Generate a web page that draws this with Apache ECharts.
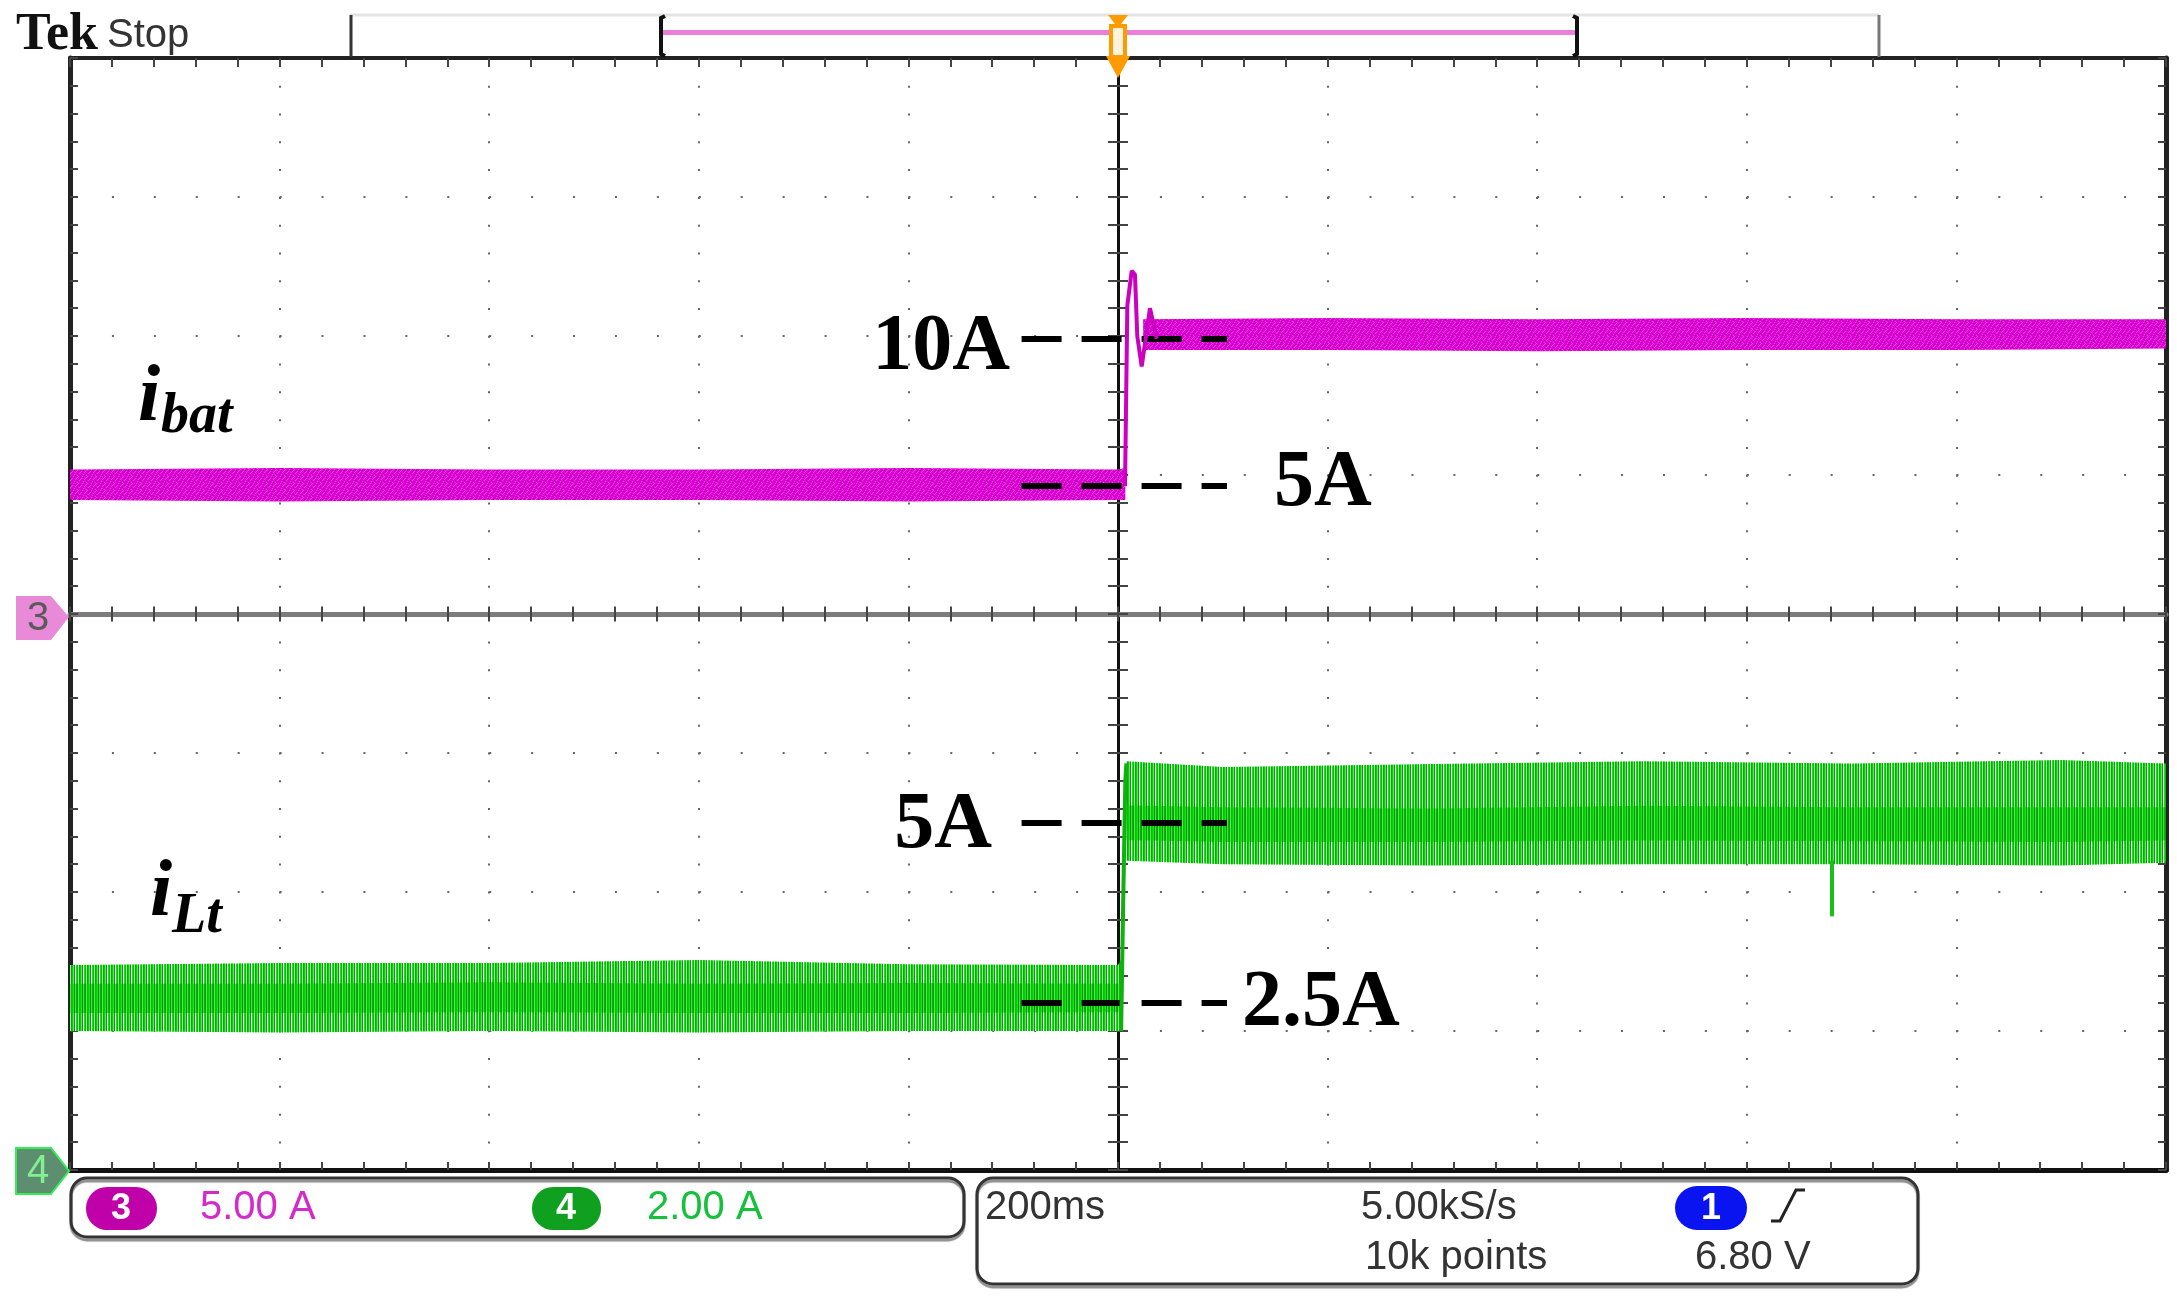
<!DOCTYPE html>
<html>
<head>
<meta charset="utf-8">
<script src="https://cdn.jsdelivr.net/npm/echarts@6/dist/echarts.min.js"></script>
<style>
html,body{margin:0;padding:0;background:#fff;}
#c{width:2177px;height:1302px;}
</style>
</head>
<body>
<div id="c"></div>
<script>
// ---- Time base: 200 ms/div, 10 div, trigger at centre (ms) ----
const timeMin = -1000, timeMax = 1000, timeDiv = 200;
// ---- Channel 3 (i_bat): 5 A/div, ground at centre ----
const ibatMin = -20, ibatMax = 20, ibatDiv = 5;
// ---- Channel 4 (i_Lt): 2 A/div, ground at bottom ----
const iLtMin = 0, iLtMax = 16, iLtDiv = 2;

// i_bat noise envelope before the step (time ms, low A, high A)
const ibatBeforeTime = [-1000, -800, -600, -400, -200, 0, 7];
const ibatBeforeLow  = [4.10, 4.05, 4.10, 4.10, 4.05, 4.10, 4.10];
const ibatBeforeHigh = [5.20, 5.25, 5.20, 5.20, 5.25, 5.20, 5.25];
// i_bat noise envelope after the step
const ibatAfterTime = [24, 200, 400, 600, 800, 1000];
const ibatAfterLow  = [9.50, 9.50, 9.45, 9.50, 9.50, 9.55];
const ibatAfterHigh = [10.60, 10.65, 10.60, 10.65, 10.60, 10.60];
// i_bat step transient
const ibatStepTime  = [6.7, 8.9, 13.1, 16.2, 18.4, 22.6, 30.5, 37];
const ibatStepValue = [4.6, 11.1, 12.35, 12.2, 10.0, 8.9, 11.0, 9.9];

// i_Lt ripple envelope before the step (outer peaks)
const iLtBeforeTime = [-1000, -800, -600, -400, -200, 0, 4];
const iLtBeforeLow  = [2.00, 1.98, 2.00, 1.98, 2.00, 2.00, 2.02];
const iLtBeforeHigh = [2.95, 2.98, 2.98, 3.02, 2.96, 2.95, 3.05];
// i_Lt dense core before the step
const iLtBeforeCoreLow  = [2.26, 2.26, 2.27, 2.26, 2.26, 2.27, 2.28];
const iLtBeforeCoreHigh = [2.68, 2.68, 2.70, 2.68, 2.69, 2.68, 2.70];
// i_Lt ripple envelope after the step (outer peaks)
const iLtAfterTime = [8, 100, 300, 500, 700, 900, 1000];
const iLtAfterLow  = [4.45, 4.40, 4.38, 4.40, 4.40, 4.38, 4.42];
const iLtAfterHigh = [5.88, 5.80, 5.84, 5.88, 5.85, 5.90, 5.85];
// i_Lt dense core after the step
const iLtAfterCoreLow  = [4.75, 4.72, 4.72, 4.74, 4.73, 4.72, 4.74];
const iLtAfterCoreHigh = [5.25, 5.22, 5.20, 5.24, 5.22, 5.22, 5.22];
// i_Lt step edge
const iLtStepTime  = [3, 5, 7, 8];
const iLtStepValue = [2.0, 3.9, 5.6, 5.85];
// i_Lt isolated downward spike (time ms, from A, to A)
const iLtSpikeTime = [681];
const iLtSpikeFrom = [4.45];
const iLtSpikeTo   = [3.65];

// Hand-drawn annotation levels (as drawn on the picture) and labels
const markStart = -92, markEnd = 104;
const ibatMarkLevels = [9.9, 4.6];
const ibatMarkLabels = ['10A', '5A'];
const iLtMarkLevels  = [5.0, 2.4];
const iLtMarkLabels  = ['5A', '2.5A'];

const chart = echarts.init(document.getElementById('c'), null, {renderer: 'canvas'});

// texture patterns (style only)
function texPattern(rows) {
  const cv = document.createElement('canvas');
  cv.width = rows[0].length; cv.height = rows.length;
  const ctx = cv.getContext('2d');
  for (let y = 0; y < cv.height; y++) {
    for (let x = 0; x < cv.width; x++) {
      ctx.fillStyle = rows[y][x];
      ctx.fillRect(x, y, 1, 1);
    }
  }
  return {image: cv, repeat: 'repeat'};
}
const GREEN_OUTER = texPattern([['#00d400', '#5fe65f', '#0a9a0a', '#ffffff', '#20dc20', '#00c000', '#9ef09e', '#00b000']]);
const GREEN_CORE = texPattern([['#00d000', '#22e022', '#078a07', '#3fe63f', '#00b600', '#0c9c0c', '#50ec50', '#00c400']]);
const P = '#e000d8', Q = '#f040e8', D = '#8a0078', M = '#c800c0';
const PINK_TEX = texPattern([
  [P, Q, P, P, M, P, Q, P, P],
  [P, P, D, P, P, Q, P, P, M],
  [Q, P, P, P, Q, P, P, D, P],
  [P, M, P, Q, P, P, P, P, Q],
  [P, P, P, P, P, D, P, Q, P],
  [M, P, Q, P, P, P, M, P, P],
  [P, P, P, D, P, Q, P, P, P]
]);

function zip(a, b) { return a.map((v, i) => [v, b[i]]); }

function band(t, lo, hi, yIdx, fill, z) {
  return {
    type: 'custom', xAxisIndex: 0, yAxisIndex: yIdx, z: z || 3, silent: true,
    data: [[t[0], lo[0]]],
    renderItem: function (params, api) {
      const pts = [];
      for (let i = 0; i < t.length; i++) pts.push(api.coord([t[i], hi[i]]));
      for (let i = t.length - 1; i >= 0; i--) pts.push(api.coord([t[i], lo[i]]));
      return {type: 'polygon', shape: {points: pts}, style: {fill: fill}};
    }
  };
}

function marks(levels) {
  return {
    silent: true, symbol: ['none', 'none'], animation: false,
    label: {show: false},
    lineStyle: {color: '#000', width: 6, type: [40, 20], opacity: 1},
    data: levels.map(v => [{coord: [markStart, v]}, {coord: [markEnd, v]}])
  };
}

const tickStyle = {color: '#444', width: 2};
function xAx(pos, offset, lineShow, lineColor, lineWidth, tickLen, split) {
  return {
    type: 'value', min: timeMin, max: timeMax, interval: timeDiv, position: pos, offset: offset,
    axisLine: {show: lineShow, onZero: false, lineStyle: {color: lineColor, width: lineWidth}},
    axisTick: {show: true, inside: true, length: tickLen, lineStyle: tickStyle},
    minorTick: {show: true, splitNumber: 5, length: tickLen, lineStyle: tickStyle},
    axisLabel: {show: false},
    splitLine: {show: split, lineStyle: {color: '#666', width: 2, type: [2, 25.78]}}
  };
}
function yAx(min, max, itv, pos, offset, lineShow, lineColor, lineWidth, tickLen, split) {
  return {
    type: 'value', min: min, max: max, interval: itv, position: pos, offset: offset,
    axisLine: {show: lineShow, onZero: false, lineStyle: {color: lineColor, width: lineWidth}},
    axisTick: {show: true, inside: true, length: tickLen, lineStyle: tickStyle},
    minorTick: {show: true, splitNumber: 5, length: tickLen, lineStyle: tickStyle},
    axisLabel: {show: false},
    splitLine: {show: split, lineStyle: {color: '#666', width: 2, type: [2, 39.92]}}
  };
}

const SERIF = '"Liberation Serif","Times New Roman",serif';
const SANS = '"Liberation Sans",Arial,sans-serif';

function txt(text, x, y, font, fill, align) {
  return {type: 'text', z: 120, silent: true,
    style: {text: text, x: x, y: y, font: font, fill: fill,
      align: align || 'left', textAlign: align || 'left',
      verticalAlign: 'middle', textVerticalAlign: 'middle'}};
}
function line(x1, y1, x2, y2, color, w) {
  return {type: 'line', z: 100, silent: true, shape: {x1, y1, x2, y2}, style: {stroke: color, lineWidth: w}};
}
function rrect(x, y, w, h, r, fill, stroke, lw) {
  return {type: 'rect', z: 100, silent: true, shape: {x, y, width: w, height: h, r: r},
    style: {fill: fill || 'none', stroke: stroke || 'none', lineWidth: lw || 0}};
}

const graphics = [
  // Header
  txt('Tek', 16, 36, 'bold 52px ' + SERIF, '#111'),
  txt('Stop', 107, 36, '40px ' + SANS, '#333'),
  rrect(350, 15, 1529, 41, 0, '#fff'),
  line(350, 15, 1879, 15, '#e4e4e4', 3),
  line(351, 15, 351, 57, '#333', 3),
  line(1879, 15, 1879, 57, '#777', 3),
  rrect(661, 30, 916, 5, 0, '#ec7edb'),
  {type: 'polyline', z: 101, silent: true, shape: {points: [[665, 16], [661, 18], [661, 54], [665, 56]]}, style: {stroke: '#111', lineWidth: 4, fill: 'none'}},
  {type: 'polyline', z: 101, silent: true, shape: {points: [[1573, 16], [1577, 18], [1577, 54], [1573, 56]]}, style: {stroke: '#111', lineWidth: 4, fill: 'none'}},
  // trigger marker
  {type: 'polygon', z: 102, silent: true, shape: {points: [[1108, 15], [1128, 15], [1118, 28]]}, style: {fill: '#ff9a00'}},
  rrect(1111, 26, 14, 31, 0, '#fff3dd', '#ff9a00', 4),
  {type: 'polygon', z: 102, silent: true, shape: {points: [[1106, 56], [1130, 56], [1118, 78]]}, style: {fill: '#ff9a00'}},
  // channel ground markers
  {type: 'polygon', z: 102, silent: true, shape: {points: [[16, 596], [51, 596], [69, 617], [51, 640], [16, 640]]}, style: {fill: '#e88ad8'}},
  txt('3', 38, 619, '40px ' + SANS, '#5a5a5a', 'center'),
  {type: 'polygon', z: 102, silent: true, shape: {points: [[16, 1148], [51, 1148], [69, 1171], [51, 1194], [16, 1194]]}, style: {fill: '#5e8e70', stroke: '#33ee55', lineWidth: 2}},
  txt('4', 38, 1172, '40px ' + SANS, '#80f090', 'center'),
  // trace labels
  txt('i', 138, 399, 'italic bold 80px ' + SERIF, '#000'),
  txt('bat', 161, 418, 'italic bold 56px ' + SERIF, '#000'),
  txt('i', 150, 894, 'italic bold 80px ' + SERIF, '#000'),
  txt('Lt', 172, 918, 'italic bold 56px ' + SERIF, '#000'),
  // annotation labels
  txt(ibatMarkLabels[0], 1010, 348, 'bold 80px ' + SERIF, '#000', 'right'),
  txt(ibatMarkLabels[1], 1274, 484, 'bold 80px ' + SERIF, '#000', 'left'),
  txt(iLtMarkLabels[0], 992, 826, 'bold 80px ' + SERIF, '#000', 'right'),
  txt(iLtMarkLabels[1], 1242, 1004, 'bold 80px ' + SERIF, '#000', 'left'),
  // bottom readouts
  {type: 'rect', z: 100, silent: true, shape: {x: 71, y: 1178, width: 893, height: 59, r: 16},
    style: {fill: 'none', stroke: '#333', lineWidth: 3, shadowColor: 'rgba(0,0,0,0.45)', shadowOffsetY: 3, shadowBlur: 1}},
  rrect(86, 1187, 71, 43, 21, '#c000a8'),
  txt('3', 121, 1209, 'bold 36px ' + SANS, '#fff', 'center'),
  txt('5.00 A', 200, 1208, '40px ' + SANS, '#d42acb'),
  rrect(532, 1187, 69, 43, 21, '#10a020'),
  txt('4', 566, 1209, 'bold 36px ' + SANS, '#fff', 'center'),
  txt('2.00 A', 647, 1208, '40px ' + SANS, '#14c03c'),
  {type: 'rect', z: 100, silent: true, shape: {x: 977, y: 1178, width: 941, height: 106, r: 16},
    style: {fill: 'none', stroke: '#333', lineWidth: 3, shadowColor: 'rgba(0,0,0,0.45)', shadowOffsetY: 3, shadowBlur: 1}},
  txt('200ms', 985, 1208, '40px ' + SANS, '#333'),
  txt('5.00kS/s', 1361, 1208, '40px ' + SANS, '#333'),
  txt('10k points', 1365, 1258, '40px ' + SANS, '#333'),
  rrect(1675, 1186, 72, 44, 22, '#0a14f0'),
  txt('1', 1711, 1209, 'bold 36px ' + SANS, '#fff', 'center'),
  {type: 'polyline', z: 101, silent: true, shape: {points: [[1771, 1221], [1780, 1221], [1796, 1190], [1805, 1190]]}, style: {stroke: '#222', lineWidth: 3, fill: 'none'}},
  txt('6.80 V', 1695, 1258, '40px ' + SANS, '#333')
];

const option = {
  animation: false,
  backgroundColor: '#fff',
  grid: {left: 70, right: 11, top: 58, bottom: 132, containLabel: false, show: false},
  xAxis: [
    xAx('bottom', 0, true, '#111', 5, 8, true),
    xAx('top', 0, true, '#222', 4, 9, false),
    xAx('bottom', -555.5, true, '#7c7c7c', 5, 8, false),
    xAx('top', -555.5, false, '#7c7c7c', 5, 8, false)
  ],
  yAxis: [
    yAx(ibatMin, ibatMax, ibatDiv, 'left', 0, true, '#222', 5, 8, true),
    yAx(iLtMin, iLtMax, iLtDiv, 'right', 0, true, '#222', 5, 8, false),
    yAx(ibatMin, ibatMax, ibatDiv, 'left', -1048, true, '#111', 3, 10, false),
    yAx(ibatMin, ibatMax, ibatDiv, 'right', -1048, false, '#111', 3, 10, false)
  ],
  series: [
    band(ibatBeforeTime, ibatBeforeLow, ibatBeforeHigh, 0, PINK_TEX),
    band(ibatAfterTime, ibatAfterLow, ibatAfterHigh, 0, PINK_TEX),
    band(iLtBeforeTime, iLtBeforeLow, iLtBeforeHigh, 1, GREEN_OUTER),
    band(iLtBeforeTime, iLtBeforeCoreLow, iLtBeforeCoreHigh, 1, GREEN_CORE, 4),
    band(iLtAfterTime, iLtAfterLow, iLtAfterHigh, 1, GREEN_OUTER),
    band(iLtAfterTime, iLtAfterCoreLow, iLtAfterCoreHigh, 1, GREEN_CORE, 4),
    {type: 'line', xAxisIndex: 0, yAxisIndex: 0, z: 5, silent: true, showSymbol: false, symbol: 'none',
      data: zip(ibatStepTime, ibatStepValue), lineStyle: {color: '#cc00c0', width: 4}, markLine: marks(ibatMarkLevels)},
    {type: 'line', xAxisIndex: 0, yAxisIndex: 1, z: 5, silent: true, showSymbol: false, symbol: 'none',
      data: zip(iLtStepTime, iLtStepValue), lineStyle: {color: '#10b010', width: 4}, markLine: marks(iLtMarkLevels)},
    {type: 'lines', coordinateSystem: 'cartesian2d', xAxisIndex: 0, yAxisIndex: 1, z: 5, silent: true,
      data: iLtSpikeTime.map((t, i) => ({coords: [[t, iLtSpikeFrom[i]], [t, iLtSpikeTo[i]]]})),
      lineStyle: {color: '#18c018', width: 4, opacity: 1}}
  ],
  graphic: {elements: graphics}
};
chart.setOption(option);
</script>
</body>
</html>
